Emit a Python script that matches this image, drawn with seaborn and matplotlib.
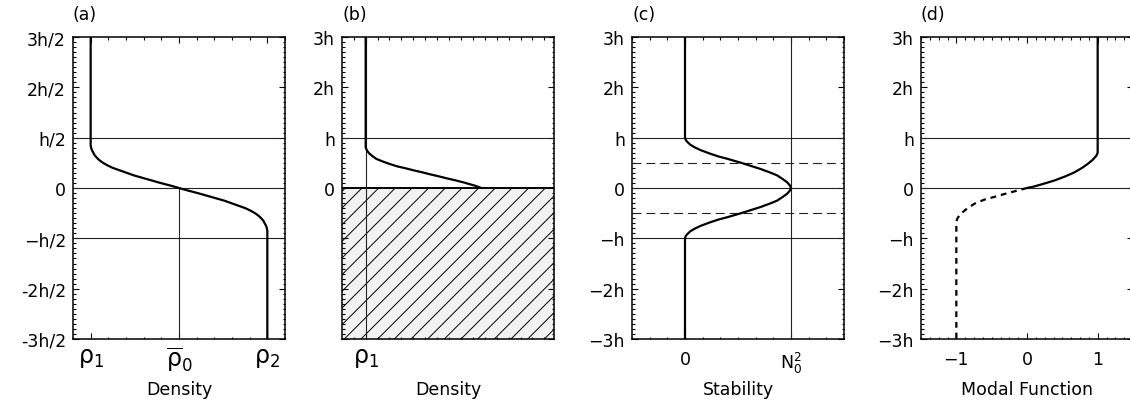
import numpy as np
import pandas as pd
import matplotlib
matplotlib.use("Agg")
import matplotlib.pyplot as plt
from matplotlib.ticker import MultipleLocator
import seaborn as sns

# ---- data (height in tick units, x in plot units) ----
# (a) density profile
a_z = [3.0, 0.85, 0.8, 0.75, 0.7, 0.65, 0.6, 0.55, 0.5, 0.45, 0.4, 0.35, 0.3, 0.25,
       0.2, 0.15, 0.1, 0.05, 0.0,
       -0.05, -0.1, -0.15, -0.2, -0.25, -0.3, -0.35, -0.4, -0.45, -0.5, -0.55, -0.6,
       -0.65, -0.7, -0.75, -0.8, -0.85, -3.0]
a_rho = [-1.0, -1.0, -0.995, -0.985, -0.97, -0.955, -0.93, -0.9, -0.86, -0.81, -0.75,
         -0.67, -0.59, -0.51, -0.41, -0.31, -0.21, -0.1, 0.0,
         0.1, 0.21, 0.31, 0.41, 0.51, 0.59, 0.67, 0.75, 0.81, 0.86, 0.9, 0.93,
         0.955, 0.97, 0.985, 0.995, 1.0, 1.0]
# (b) density profile above the bottom layer
b_z = [3.0, 0.82, 0.78, 0.72, 0.68, 0.63, 0.58, 0.53, 0.48, 0.43, 0.39, 0.35, 0.31,
       0.27, 0.23, 0.19, 0.15, 0.11, 0.08, 0.04, 0.0]
b_rho = [0.0, 0.0, 0.005, 0.025, 0.045, 0.08, 0.12, 0.19, 0.27, 0.36, 0.46, 0.55, 0.65,
         0.74, 0.84, 0.93, 1.03, 1.12, 1.18, 1.26, 1.32]
# (c) stability
c_z = [3.0, 1.0, 0.95, 0.91, 0.86, 0.81, 0.75, 0.68, 0.63, 0.58, 0.5, 0.44, 0.38,
       0.31, 0.25, 0.18, 0.11, 0.05, 0.0,
       -0.05, -0.11, -0.18, -0.25, -0.31, -0.38, -0.44, -0.5, -0.58, -0.63, -0.68,
       -0.75, -0.81, -0.86, -0.91, -0.95, -1.0, -3.0]
c_n2 = [0.0, 0.0, 0.008, 0.025, 0.05, 0.09, 0.15, 0.24, 0.31, 0.4, 0.53, 0.62, 0.71,
        0.8, 0.87, 0.92, 0.965, 0.99, 1.0,
        0.99, 0.965, 0.92, 0.87, 0.8, 0.71, 0.62, 0.53, 0.4, 0.31, 0.24,
        0.15, 0.09, 0.05, 0.025, 0.008, 0.0, 0.0]
# (d) modal function, solid upper part and dashed lower part
d_z_up = [3.0, 0.7, 0.64, 0.56, 0.48, 0.4, 0.31, 0.23, 0.15, 0.09, 0.03, 0.0]
d_f_up = [1.0, 1.0, 0.98, 0.93, 0.86, 0.78, 0.67, 0.54, 0.39, 0.25, 0.1, 0.0]
d_z_lo = [0.0, -0.06, -0.12, -0.18, -0.23, -0.31, -0.4, -0.48, -0.55, -0.62, -0.68, -3.0]
d_f_lo = [0.0, -0.16, -0.32, -0.47, -0.6, -0.74, -0.84, -0.91, -0.96, -0.99, -1.0, -1.0]

z_ticks = [-3, -2, -1, 0, 1, 2, 3]
a_ylabels = ['-3h/2', '-2h/2', '\u2212h/2', '0', 'h/2', '2h/2', '3h/2']
h_ylabels = ['\u22123h', '\u22122h', '\u2212h', '0', 'h', '2h', '3h']
b_ylabels = ['', '', '', '0', 'h', '2h', '3h']

sns.set_style('ticks')
plt.rcParams['font.family'] = ['DejaVu Sans']
plt.rcParams['hatch.linewidth'] = 0.7
plt.rcParams['text.color'] = 'black'
plt.rcParams['axes.labelcolor'] = 'black'

W, H = 1130, 402
fig = plt.figure(figsize=(W / 100, H / 100), dpi=100)


def make_ax(left):
    ax = fig.add_axes([left / W, (H - 340) / H, 212 / W, 302 / H])
    ax.set_ylim(-3, 3)
    ax.set_yticks(z_ticks)
    ax.yaxis.set_minor_locator(MultipleLocator(0.1))
    ax.tick_params(which='both', direction='in', top=True, right=True,
                   colors='black', labelcolor='black', width=0.8)
    ax.tick_params(which='major', length=4)
    ax.tick_params(which='minor', length=1.8)
    ax.tick_params(axis='y', labelsize=12.5, pad=5)
    for s in ax.spines.values():
        s.set_linewidth(1.1)
        s.set_color('black')
    ax.xaxis.set_label_coords(0.5, -0.135)
    return ax


def curve(ax, x, z, **kw):
    df = pd.DataFrame({'x': x, 'z': z})
    sns.lineplot(data=df, x='x', y='z', sort=False, estimator=None,
                 color='black', lw=1.6, ax=ax, **kw)


thin = dict(color='#222222', lw=0.8)

# ---- (a) ----
ax = make_ax(73)
ax.set_xlim(-1.2, 1.2)
for zz in [1, 0, -1]:
    ax.axhline(zz, **thin)
ax.plot([0, 0], [-3, 0], **thin)
curve(ax, a_rho, a_z)
ax.set_yticklabels(a_ylabels)
ax.set_xticks([-1, 0, 1])
ax.set_xticklabels([r'$\mathregular{\rho_1}$', r'$\mathregular{\overline{\rho}_0}$',
                    r'$\mathregular{\rho_2}$'], fontsize=17)
ax.xaxis.set_minor_locator(MultipleLocator(0.2))
ax.tick_params(axis='x', pad=4)
ax.set_xlabel('Density', fontsize=12.5)
ax.text(0.0, 1.045, '(a)', transform=ax.transAxes, ha='left', va='bottom', fontsize=12.5)

# ---- (b) ----
ax = make_ax(342)
ax.set_xlim(-0.27, 2.15)
ax.fill_betweenx([-3, 0], -0.27, 2.15, facecolor='#f2f2f2', edgecolor='black',
                 hatch='//', linewidth=0, zorder=0.5)
ax.axhline(1, **thin)
ax.axhline(0, color='black', lw=1.4)
ax.axvline(0, **thin)
curve(ax, b_rho, b_z)
ax.set_yticklabels(b_ylabels)
ax.set_xticks([0])
ax.set_xticklabels([r'$\mathregular{\rho_1}$'], fontsize=17)
ax.xaxis.set_minor_locator(MultipleLocator(0.136))
ax.tick_params(axis='x', pad=4)
ax.set_xlabel('Density', fontsize=12.5)
ax.text(0.0, 1.045, '(b)', transform=ax.transAxes, ha='left', va='bottom', fontsize=12.5)

# ---- (c) ----
ax = make_ax(632)
ax.set_xlim(-0.5, 1.5)
for zz in [1, 0, -1]:
    ax.axhline(zz, **thin)
for zz in [0.5, -0.5]:
    ax.axhline(zz, color='#222222', lw=0.8, ls=(0, (8, 4.5)))
ax.axvline(1, **thin)
curve(ax, c_n2, c_z)
ax.set_yticklabels(h_ylabels)
ax.set_xticks([0, 1])
ax.set_xticklabels(['0', r'$\mathregular{N_0^2}$'], fontsize=12.5)
ax.xaxis.set_minor_locator(MultipleLocator(1 / 6))
ax.tick_params(axis='x', pad=8)
ax.set_xlabel('Stability', fontsize=12.5)
ax.text(0.0, 1.045, '(c)', transform=ax.transAxes, ha='left', va='bottom', fontsize=12.5)

# ---- (d) ----
ax = make_ax(921)
ax.set_xlim(-1.5, 1.5)
for zz in [1, 0]:
    ax.axhline(zz, **thin)
curve(ax, d_f_up, d_z_up)
curve(ax, d_f_lo, d_z_lo, linestyle=(0, (2.6, 2.2)))
ax.set_yticklabels(h_ylabels)
ax.set_xticks([-1, 0, 1])
ax.set_xticklabels(['\u22121', '0', '1'], fontsize=12.5)
ax.xaxis.set_minor_locator(MultipleLocator(0.125))
ax.tick_params(axis='x', pad=8)
ax.set_xlabel('Modal Function', fontsize=12.5)
ax.text(0.0, 1.045, '(d)', transform=ax.transAxes, ha='left', va='bottom', fontsize=12.5)

for a in fig.axes:
    a.set_ylabel('')

fig.savefig('out.png', dpi=100, facecolor='white')
